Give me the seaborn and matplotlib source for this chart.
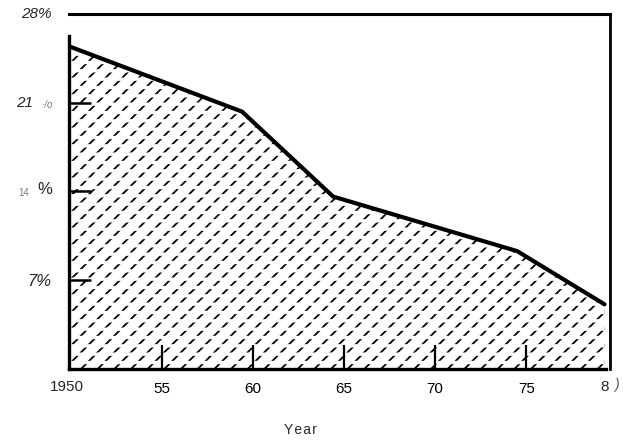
import numpy as np
import pandas as pd
import matplotlib
matplotlib.use("Agg")
import matplotlib.pyplot as plt
import seaborn as sns

# ---- data ----
years = [1950, 1959.4, 1964.4, 1974.5, 1979.3]
share = [25.4, 20.3, 13.6, 9.3, 5.1]
x_ticks = [1955, 1960, 1965, 1970, 1975]
x_tick_labels = ["55", "60", "65", "70", "75"]
y_ticks = [7, 14, 21]

sns.set_style("white")
plt.rcParams["font.family"] = ["Liberation Sans", "DejaVu Sans"]

df = pd.DataFrame({"year": years, "share": share})

W, H = 623, 440
fig = plt.figure(figsize=(W / 100, H / 100), dpi=100)
ax = fig.add_axes([69 / W, (H - 369) / H, (610 - 69) / W, (369 - 14) / H])
ax.set_axisbelow(False)

# hatched area: diagonal lines, broken into dashes by white horizontal stripes
with plt.rc_context({"hatch.linewidth": 1.3}):
    area = ax.fill_between(df["year"], df["share"], 0, facecolor="white",
                           edgecolor="black", linewidth=0, hatch="//", zorder=1)
    if hasattr(area, "set_hatch_linewidth"):
        area.set_hatch_linewidth(1.3)
with plt.rc_context({"hatch.linewidth": 2.4}):
    cut = ax.fill_between(df["year"], df["share"], 0, facecolor="none",
                          edgecolor="white", linewidth=0, hatch="--", zorder=1.2)
    if hasattr(cut, "set_hatch_linewidth"):
        cut.set_hatch_linewidth(2.4)

sns.lineplot(data=df, x="year", y="share", color="black", linewidth=3.0,
             ax=ax, zorder=3)

ax.set_xlim(1949.9, 1979.6)
ax.set_ylim(0, 28)
ax.set_xlabel("")
ax.set_ylabel("")

for side in ["left", "right", "top", "bottom"]:
    ax.spines[side].set_visible(True)
    ax.spines[side].set_color("black")
    ax.spines[side].set_zorder(4)
ax.spines["left"].set_linewidth(2.4)
ax.spines["bottom"].set_linewidth(2.4)
ax.spines["top"].set_linewidth(2.2)
ax.spines["right"].set_linewidth(2.0)
ax.spines["left"].set_bounds(0, 26.3)
ax.spines["bottom"].set_bounds(1949.9, 1979.4)

ax.set_xticks(x_ticks, x_tick_labels)
ax.tick_params(axis="x", which="major", bottom=True, direction="in", length=17,
               width=1.6, labelsize=11, pad=9, colors="black")
ax.set_yticks(y_ticks, [""] * len(y_ticks))
ax.tick_params(axis="y", which="major", left=True, direction="in", length=16,
               width=1.8, colors="black")

ax.annotate("1950", xy=(1950, 0), xytext=(-4, -18), textcoords="offset pixels",
            ha="center", va="center", fontsize=11)
ax.annotate("8", xy=(years[-1], 0), xytext=(0, -18), textcoords="offset pixels",
            ha="center", va="center", fontsize=11)
ax.annotate(")", xy=(years[-1], 0), xytext=(12, -16), textcoords="offset pixels",
            ha="center", va="center", fontsize=10, style="italic", color="#555555")

yc = ("axes fraction", "data")
ax.annotate("28%", xy=(0, 28), xycoords=yc, xytext=(-17, 0), textcoords="offset pixels",
            ha="right", va="center", fontsize=11, style="italic", annotation_clip=False)
ax.annotate("21", xy=(0, 21), xycoords=yc, xytext=(-36, 0), textcoords="offset pixels",
            ha="right", va="center", fontsize=11, style="italic", annotation_clip=False)
ax.annotate("·/o", xy=(0, 21), xycoords=yc, xytext=(-16, -2), textcoords="offset pixels",
            ha="right", va="center", fontsize=7, style="italic", color="#777777",
            annotation_clip=False)
ax.annotate("14", xy=(0, 14), xycoords=yc, xytext=(-40, -2), textcoords="offset pixels",
            ha="right", va="center", fontsize=7, color="#777777", annotation_clip=False)
ax.annotate("%", xy=(0, 14), xycoords=yc, xytext=(-17, 2), textcoords="offset pixels",
            ha="right", va="center", fontsize=12, annotation_clip=False)
ax.annotate("7%", xy=(0, 7), xycoords=yc, xytext=(-18, -1), textcoords="offset pixels",
            ha="right", va="center", fontsize=12, style="italic", annotation_clip=False)

fig.text(300 / W, 1 - 430 / H, "Y\u200ae\u200aa\u200ar", ha="center",
         va="center", fontsize=10)

fig.savefig("out.png", dpi=100)
